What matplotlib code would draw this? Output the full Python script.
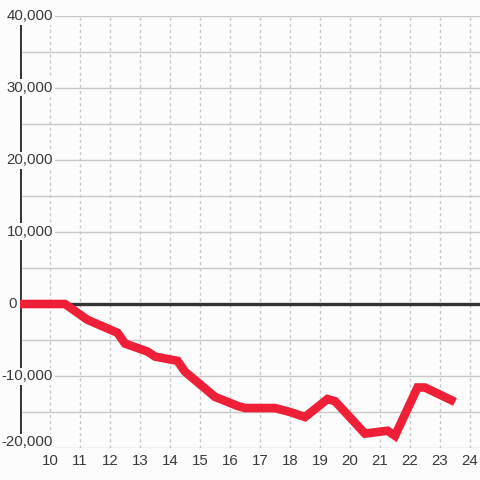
import matplotlib
matplotlib.use("Agg")
import matplotlib.pyplot as plt
import matplotlib.transforms as mtransforms

# Data
hours = [9, 10.5, 11.25, 11.5, 12.25, 12.5, 13.25, 13.5, 14.25, 14.5, 15.5,
         16.25, 16.5, 17.5, 18.0, 18.5, 19.25, 19.5, 20.5, 21.25, 21.5,
         22.25, 22.5, 23.5]
values = [0, 0, -2200, -2650, -4000, -5500, -6600, -7300, -7900, -9400, -12900,
          -14150, -14450, -14450, -15000, -15700, -13200, -13500, -18000, -17600, -18300,
          -11600, -11600, -13600]
y_ticks = [40000, 30000, 20000, 10000, 0, -10000, -20000]
y_labels = ["40,000", "30,000", "20,000", "10,000", "0", "-10,000", "-20,000"]
x_ticks = list(range(10, 25))
x_labels = [str(v) for v in x_ticks]

bg = "#fbfcfb"
text_color = "#3a3a3a"
plt.rcParams['font.family'] = ['Liberation Sans', 'DejaVu Sans']

fig = plt.figure(figsize=(4.8, 4.8), dpi=100, facecolor=bg)
ax = fig.add_axes([20/480, 1 - 448/480, 460/480, 432/480], facecolor=bg)
ax.set_xlim(9, 9 + 460/30)
ax.set_ylim(-20000, 40000)
for s in ax.spines.values():
    s.set_visible(False)
ax.set_xticks([]); ax.set_yticks([])

# horizontal gridlines every 5000
for v in range(-20000, 40001, 5000):
    ax.axhline(v, color="#c8c8c8", lw=1.0, zorder=1)
# vertical dashed gridlines
for h in x_ticks:
    ax.axvline(h, color="#c8c8c8", lw=1.0, ls=(0, (2.2, 2.2)), zorder=1)

# axis lines
ax.axvline(9, color="#333333", lw=2.8, zorder=2)
ax.axhline(0, color="#333333", lw=2.4, zorder=2)

# data line
ax.plot(hours, values, color="#ee1f37", lw=6.2, solid_joinstyle="miter",
        solid_capstyle="butt", zorder=3)

# y labels
trans_y = mtransforms.blended_transform_factory(ax.transAxes, ax.transData)
for v, lab in zip(y_ticks, y_labels):
    if v == 0:
        xpos = (16.5 - 20) / 460
    else:
        xpos = (53 - 20) / 460
    yv = v
    if v == -20000:
        yv = -19200
    ax.text(xpos, yv, lab, transform=trans_y, ha="right", va="center",
            fontsize=10.8, color=text_color, clip_on=False, zorder=5,
            bbox=dict(boxstyle="square,pad=0.1", fc=bg, ec="none"))

# x labels
trans_x = mtransforms.blended_transform_factory(ax.transData, ax.transAxes)
for h, lab in zip(x_ticks, x_labels):
    ax.text(h, (448 - 461) / 432, lab, transform=trans_x, ha="center", va="center",
            fontsize=10.8, color=text_color, clip_on=False, zorder=5)

fig.savefig("out.png", dpi=100, facecolor=bg)
